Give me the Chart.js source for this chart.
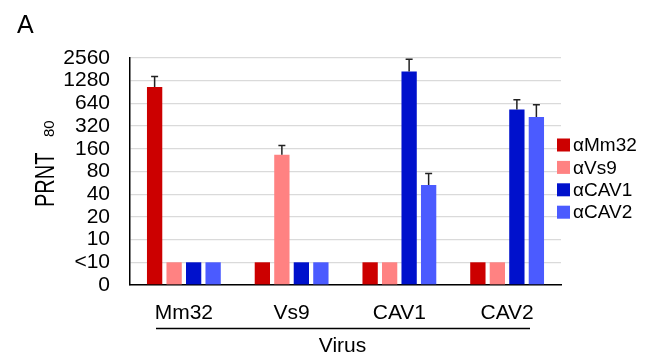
<!DOCTYPE html>
<html>
<head>
<meta charset="utf-8">
<script src="https://cdn.jsdelivr.net/npm/chart.js@4.4.1/dist/chart.umd.min.js"></script>
<style>
  html, body { margin: 0; padding: 0; background: #fff; }
  #wrap { width: 646px; height: 354px; }
</style>
</head>
<body>
<div id="wrap"><canvas id="chart" width="646" height="354"></canvas></div>
<script>
const viruses = ['Mm32', 'Vs9', 'CAV1', 'CAV2'];
const yTicks = ['0', '<10', '10', '20', '40', '80', '160', '320', '640', '1280', '2560'];

// PRNT80 titres per antiserum, '<10' = below detection
const aMm32 = [1054, '<10', '<10', '<10'];
const aVs9 = ['<10', 133, '<10', '<10'];
const aCAV1 = ['<10', '<10', 1700, 530];
const aCAV2 = ['<10', '<10', 53, 422];

// top of the error bars
const aMm32Err = [1460, null, null, null];
const aVs9Err = [null, 177, null, null];
const aCAV1Err = [null, null, 2456, 715];
const aCAV2Err = [null, null, 75, 614];

const serumNames = ['αMm32', 'αVs9', 'αCAV1', 'αCAV2'];
const serumColors = ['#CC0000', '#FF8282', '#0011CC', '#4B5BFF'];

const FONT = "'Liberation Sans', Arial, sans-serif";

// titre -> position on the evenly spaced two-fold axis (index into yTicks)
const toPos = v => v === '<10' ? 1 : 2 + Math.log2(v / 10);

const series = [aMm32, aVs9, aCAV1, aCAV2];
const errors = [aMm32Err, aVs9Err, aCAV1Err, aCAV2Err];

const extras = {
  id: 'extras',
  afterDatasetsDraw(chart) {
    const ctx = chart.ctx;
    const y = chart.scales.y;
    ctx.save();
    ctx.strokeStyle = '#222';
    ctx.lineWidth = 1.5;
    chart.data.datasets.forEach((ds, i) => {
      const meta = chart.getDatasetMeta(i);
      errors[i].forEach((e, j) => {
        if (e == null) return;
        const bar = meta.data[j];
        const top = y.getPixelForValue(toPos(e));
        ctx.beginPath();
        ctx.moveTo(bar.x, bar.y);
        ctx.lineTo(bar.x, top);
        ctx.moveTo(bar.x - 3.5, top);
        ctx.lineTo(bar.x + 3.5, top);
        ctx.stroke();
      });
    });
    ctx.restore();
  },
  afterDraw(chart) {
    const ctx = chart.ctx;
    const area = chart.chartArea;
    ctx.save();
    ctx.fillStyle = '#000';

    // panel letter
    ctx.font = '25px ' + FONT;
    ctx.textAlign = 'left';
    ctx.textBaseline = 'alphabetic';
    ctx.fillText('A', 17, 33);

    // y title: PRNT with subscript 80
    ctx.save();
    ctx.translate(53.5, 207);
    ctx.rotate(-Math.PI / 2);
    ctx.save();
    ctx.scale(1, 1.4);
    ctx.font = '20px ' + FONT;
    ctx.fillText('PRNT', 0, 0);
    ctx.restore();
    ctx.font = '15px ' + FONT;
    ctx.fillText('80', 70, 0.5);
    ctx.restore();

    // virus bracket line and label
    ctx.strokeStyle = '#000';
    ctx.lineWidth = 1.3;
    ctx.beginPath();
    ctx.moveTo(156, 328.5);
    ctx.lineTo(530, 328.5);
    ctx.stroke();
    ctx.font = '21px ' + FONT;
    ctx.textAlign = 'center';
    ctx.fillText('Virus', (area.left + area.right) / 2 - 3, 352);

    // legend
    ctx.textAlign = 'left';
    ctx.textBaseline = 'middle';
    ctx.font = '19px ' + FONT;
    serumNames.forEach((name, i) => {
      const cy = 145 + i * 22.4;
      ctx.fillStyle = serumColors[i];
      ctx.fillRect(557, cy - 6.5, 13, 13);
      ctx.fillStyle = '#000';
      ctx.fillText(name, 573, cy + 1);
    });
    ctx.restore();
  }
};

new Chart(document.getElementById('chart'), {
  type: 'bar',
  data: {
    labels: viruses,
    datasets: series.map((s, i) => ({
      label: serumNames[i],
      data: s.map(toPos),
      backgroundColor: serumColors[i],
      borderWidth: 0,
      categoryPercentage: 0.724,
      barPercentage: 0.785
    }))
  },
  options: {
    responsive: false,
    animation: false,
    devicePixelRatio: 1,
    layout: { padding: { top: 58, right: 85, left: 0, bottom: 0 } },
    plugins: {
      legend: { display: false },
      tooltip: { enabled: false }
    },
    scales: {
      x: {
        grid: { display: false, drawTicks: false },
        border: { display: true, color: '#000', width: 1.5 },
        ticks: { color: '#000', font: { family: FONT, size: 21 }, padding: 16 },
        afterFit(s) { s.height = 69; }
      },
      y: {
        min: 0,
        max: 10,
        ticks: {
          stepSize: 1,
          autoSkip: false,
          color: '#000',
          font: { family: FONT, size: 21 },
          padding: 20,
          callback: v => yTicks[v]
        },
        grid: { color: '#dadada', lineWidth: 1.3, drawTicks: false },
        border: { color: '#000', width: 1.5 },
        afterFit(s) { s.width = 130; }
      }
    }
  },
  plugins: [extras]
});
</script>
</body>
</html>
